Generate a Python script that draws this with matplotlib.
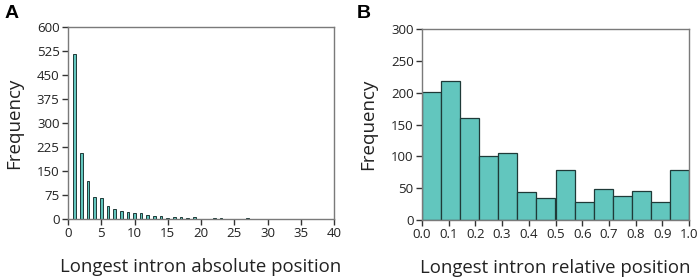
import matplotlib
matplotlib.use("Agg")
import matplotlib.pyplot as plt
import numpy as np

plt.rcParams['font.family'] = ['Open Sans', 'DejaVu Sans']

# Panel A: absolute position counts
abs_pos = list(range(1, 40))
abs_freq = [517, 205, 119, 68, 65, 41, 32, 25, 21, 18, 18, 13, 8, 8, 2, 6, 5, 4, 5, 0,
            1, 2, 2, 1, 1, 1, 3, 1, 0, 1, 0, 1, 0, 0, 0, 0, 0, 1, 1]
a_xticks = [0, 5, 10, 15, 20, 25, 30, 35, 40]
a_yticks = [0, 75, 150, 225, 300, 375, 450, 525, 600]

# Panel B: relative position histogram (14 bins over 0..1)
rel_freq = [201, 218, 160, 101, 106, 44, 35, 79, 29, 49, 38, 45, 29, 78]
b_xticks = [0.0, 0.1, 0.2, 0.3, 0.4, 0.5, 0.6, 0.7, 0.8, 0.9, 1.0]
b_yticks = [0, 50, 100, 150, 200, 250, 300]

face = '#62C6BE'
edge = '#1f3a38'
spine_col = '#7a7a7a'

fig = plt.figure(figsize=(6.99, 2.79), dpi=100)
axA = fig.add_axes([68/699, 1-219/279, (334-68)/699, (219-27)/279])
axB = fig.add_axes([422/699, 1-220/279, (689-422)/699, (220-29)/279])

axA.bar(abs_pos, abs_freq, width=0.4, color=face, edgecolor=edge, linewidth=0.7)
axA.set_xlim(0, 40)
axA.set_ylim(0, 600)
axA.set_xticks(a_xticks)
axA.set_yticks(a_yticks)

nb = len(rel_freq)
edges = np.linspace(0, 1, nb + 1)
axB.bar(edges[:-1], rel_freq, width=1/nb, align='edge', color=face, edgecolor=edge, linewidth=0.9)
axB.set_xlim(0, 1)
axB.set_ylim(0, 300)
axB.set_xticks(b_xticks)
axB.set_xticklabels([f"{v:.1f}" for v in b_xticks])
axB.set_yticks(b_yticks)

for ax in (axA, axB):
    for s in ax.spines.values():
        s.set_color(spine_col)
        s.set_linewidth(1.0)
    ax.tick_params(direction='out', length=4, width=1, color='#333333', labelsize=9.5,
                   labelcolor='#222222', pad=2)
    ax.set_ylabel('Frequency', fontsize=13.5, color='#222222', labelpad=10)

axA.set_xlabel('Longest intron absolute position', fontsize=13.4, color='#222222', labelpad=13)
axB.set_xlabel('Longest intron relative position', fontsize=13.4, color='#222222', labelpad=13)

fig.text(5/699, 1-13/279, 'A', fontsize=14, fontweight='bold', va='center', ha='left',
         family=['Liberation Sans', 'DejaVu Sans'])
fig.text(357/699, 1-13/279, 'B', fontsize=14, fontweight='bold', va='center', ha='left',
         family=['Liberation Sans', 'DejaVu Sans'])

fig.savefig('out.png', dpi=100)
